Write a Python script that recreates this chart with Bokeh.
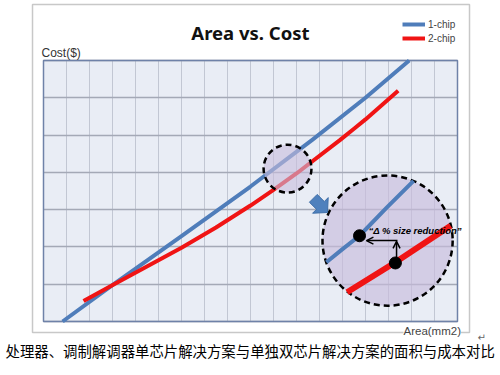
from bokeh.plotting import figure
from bokeh.models import (Range1d, FixedTicker, Label, Arrow, OpenHead, Legend)
from bokeh.embed import file_html
from bokeh.resources import INLINE

# ---- data ----
x_ticks = list(range(0, 19))
y_ticks = list(range(0, 8))
x_min, x_max = 0, 18
y_min, y_max = 0, 7

one_chip_x = [0.83, 3.1, 6.0, 9.0, 11.7, 14.0, 15.9]
one_chip_y = [0.0, 1.02, 2.29, 3.62, 4.88, 6.0, 7.0]

two_chip_x = [1.74, 3.13, 6.0, 7.5, 9.0, 10.0, 11.0, 12.9, 13.5, 14.0, 15.42]
two_chip_y = [0.55, 1.02, 1.98, 2.52, 3.11, 3.53, 3.97, 4.87, 5.17, 5.42, 6.19]

# magnified detail inside the big circle
zoom_one_x = [12.30, 13.0, 13.74, 14.9, 16.09]
zoom_one_y = [1.59, 1.94, 2.30, 3.04, 3.77]
zoom_two_x = [13.20, 15.30, 17.70]
zoom_two_y = [0.786, 1.59, 2.57]

dot_x = [13.74, 15.30]
dot_y = [2.30, 1.57]

small_circle = dict(x=10.61, y=4.10, r=1.04)
big_circle = dict(x=14.96, y=2.17, r=2.83)

pointer_x = [12.348, 12.378, 12.209, 11.90, 11.561, 11.870, 11.70]
pointer_y = [2.923, 3.323, 3.218, 3.408, 3.199, 3.009, 2.904]

title_text = "Area vs. Cost"
y_label = "Cost($)"
x_label = "Area(mm2)"
note_text = "\u201c\u0394 % size reduction\u201d"
caption = "处理器、调制解调器单芯片解决方案与单独双芯片解决方案的面积与成本对比"

BLUE = "#4f7dba"
RED = "#f01414"

# canvas 500x375: 23 px per x unit, ~37.29 px per y unit
p = figure(width=500, height=375,
           x_range=Range1d(-1.8696, 19.8696), y_range=Range1d(-1.4483, 8.6092),
           output_backend="svg", toolbar_location=None,
           min_border=0)
p.xaxis.visible = False
p.yaxis.visible = False
p.background_fill_color = "white"
p.border_fill_color = "white"
p.outline_line_color = None

# plot area background
p.quad(left=[x_min], right=[x_max], bottom=[y_min], top=[y_max],
       fill_color="#e9edf5", line_color=None, level="image")

# grid
xg = p.xgrid[0]
yg = p.ygrid[0]
xg.ticker = FixedTicker(ticks=x_ticks)
yg.ticker = FixedTicker(ticks=y_ticks)
xg.grid_line_color = "#c2c7d3"
xg.grid_line_width = 1
yg.grid_line_color = "#a4a9b6"
yg.grid_line_width = 1.5
try:
    xg.bounds = (x_min, x_max)
    yg.bounds = (y_min, y_max)
    xg.cross_bounds = (y_min, y_max)
    yg.cross_bounds = (x_min, x_max)
except Exception:
    xg.visible = False
    yg.visible = False
    p.segment(x0=x_ticks, y0=[y_min] * len(x_ticks), x1=x_ticks,
              y1=[y_max] * len(x_ticks), line_color="#c2c7d3", line_width=1)
    p.segment(x0=[x_min] * len(y_ticks), y0=y_ticks, x1=[x_max] * len(y_ticks),
              y1=y_ticks, line_color="#a4a9b6", line_width=1.5)

# plot area border
p.quad(left=[x_min], right=[x_max], bottom=[y_min], top=[y_max],
       fill_alpha=0, line_color="#6f82a8", line_width=1.5)

r1 = p.line(one_chip_x, one_chip_y, line_width=4, line_color=BLUE,
            line_join="round")
r2 = p.line(two_chip_x, two_chip_y, line_width=4, line_color=RED,
            line_join="round")

# small highlight circle (over the lines)
p.circle([small_circle["x"]], [small_circle["y"]], radius=small_circle["r"],
         fill_color="#c8bcdc", fill_alpha=0.6, line_color="black",
         line_width=2.5, line_dash="6 4")
# big magnified circle
p.circle([big_circle["x"]], [big_circle["y"]], radius=big_circle["r"],
         fill_color="#c8bcdc", fill_alpha=0.65, line_color="black",
         line_width=2.5, line_dash="6 4")

p.line(zoom_one_x, zoom_one_y, line_width=4, line_color=BLUE, line_join="round")
p.line(zoom_two_x, zoom_two_y, line_width=6, line_color=RED, line_join="round")
p.scatter(dot_x, dot_y, size=12, color="black")

p.patch(pointer_x, pointer_y, fill_color="#4f81bd", line_color="#3f6fa8",
        line_width=1)

p.add_layout(Arrow(x_start=15.39, y_start=2.17, x_end=14.04, y_end=2.17,
                   line_width=1.5, line_color="black",
                   end=OpenHead(size=7, line_width=1.5, line_color="black")))
p.add_layout(Arrow(x_start=15.35, y_start=1.57, x_end=15.35, y_end=2.15,
                   line_width=1.5, line_color="black",
                   end=OpenHead(size=7, line_width=1.5, line_color="black")))

p.add_layout(Label(x=14.13, y=2.44, text=note_text, text_font="Liberation Sans",
                   text_font_style="bold italic", text_font_size="9.5px",
                   text_color="black", text_baseline="middle"))

# outer frame of the picture
p.quad(left=[-0.478], right=[18.522], bottom=[-0.295], top=[8.502],
       fill_alpha=0, line_color="#c8c8c8", line_width=1.5)

# texts
p.add_layout(Label(x=9.0, y=7.751, text=title_text, text_font="Noto Sans",
                   text_font_style="bold", text_font_size="18.5px",
                   text_color="#111111", text_align="center",
                   text_baseline="middle"))
p.add_layout(Label(x=-0.087, y=7.188, text=y_label, text_font="Liberation Sans",
                   text_font_size="12px", text_color="#333333",
                   text_baseline="middle"))
p.add_layout(Label(x=15.652, y=-0.268, text=x_label, text_font="Liberation Sans",
                   text_font_size="11.5px", text_color="#444444",
                   text_baseline="middle", background_fill_color="white"))
p.add_layout(Label(x=18.87, y=-0.429, text="\u21b5", text_font="DejaVu Sans",
                   text_font_size="10px", text_color="#666666",
                   text_baseline="middle"))
p.add_layout(Label(x=-1.652, y=-0.778, text=caption, text_font="Noto Sans CJK SC",
                   text_font_size="14.4px", text_color="black",
                   text_baseline="middle"))

legend = Legend(items=[("1-chip", [r1]), ("2-chip", [r2])], location=(402, 330),
                padding=0, margin=0, spacing=0, glyph_height=14, label_height=14,
                glyph_width=23, label_standoff=3, border_line_color=None,
                background_fill_alpha=0, label_text_font="Liberation Sans",
                label_text_font_size="10px", label_text_color="#444444")
p.add_layout(legend)

open("out.html", "w").write(file_html(p, INLINE))
